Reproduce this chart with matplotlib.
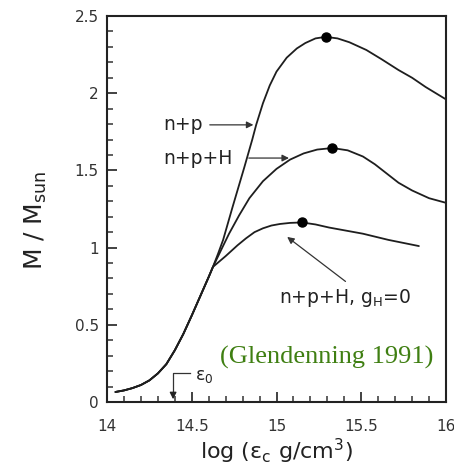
import matplotlib
matplotlib.use("Agg")
import matplotlib.pyplot as plt
from matplotlib.ticker import MultipleLocator, FuncFormatter

plt.rcParams['font.family'] = ['DejaVu Sans']
plt.rcParams['mathtext.fontset'] = 'dejavusans'

# shared low-density branch
x_common = [14.05, 14.1, 14.15, 14.2, 14.25, 14.3, 14.35, 14.40, 14.45, 14.50, 14.55, 14.60, 14.625]
y_common = [0.065, 0.075, 0.09, 0.11, 0.14, 0.185, 0.245, 0.335, 0.44, 0.56, 0.685, 0.81, 0.875]

# n+p
x_np = [14.625, 14.655, 14.685, 14.74, 14.81, 14.857, 14.88, 14.92, 14.96, 15.0, 15.06, 15.12,
        15.17, 15.23, 15.29, 15.36, 15.43, 15.53, 15.62, 15.72, 15.80, 15.88, 16.0]
y_np = [0.875, 0.96, 1.05, 1.26, 1.52, 1.70, 1.795, 1.935, 2.05, 2.14, 2.23, 2.29,
        2.325, 2.355, 2.365, 2.355, 2.33, 2.28, 2.22, 2.15, 2.10, 2.04, 1.96]

# n+p+H
x_nph = [14.625, 14.68, 14.72, 14.78, 14.84, 14.92, 15.0, 15.08, 15.16, 15.24, 15.33, 15.42,
         15.51, 15.58, 15.65, 15.72, 15.80, 15.90, 16.0]
y_nph = [0.875, 1.0, 1.09, 1.21, 1.32, 1.43, 1.51, 1.57, 1.61, 1.635, 1.645, 1.63,
         1.59, 1.54, 1.48, 1.42, 1.37, 1.32, 1.29]

# n+p+H, g_H = 0
x_g0 = [14.625, 14.70, 14.77, 14.82, 14.87, 14.92, 14.97, 15.02, 15.08, 15.15, 15.23,
        15.31, 15.41, 15.51, 15.66, 15.84]
y_g0 = [0.875, 0.945, 1.015, 1.06, 1.10, 1.125, 1.143, 1.153, 1.16, 1.163, 1.15,
        1.13, 1.11, 1.09, 1.05, 1.01]

# maximum-mass points
x_max = [15.29, 15.33, 15.15]
y_max = [2.365, 1.645, 1.163]

x_ticks = [14, 14.5, 15, 15.5, 16]
y_ticks = [0, 0.5, 1, 1.5, 2, 2.5]

fig = plt.figure(figsize=(4.54, 4.71), dpi=100)
ax = fig.add_axes([0.2357, 0.1465, 0.9824 - 0.2357, 0.966 - 0.1465])

lc = '#1e1e1e'
for xs, ys in [(x_np, y_np), (x_nph, y_nph), (x_g0, y_g0)]:
    ax.plot(x_common + xs[1:], y_common + ys[1:], color=lc, lw=1.3,
            solid_joinstyle='round', solid_capstyle='round')
ax.plot(x_max, y_max, 'o', color='black', ms=6.5)

ax.set_xlim(14, 16)
ax.set_ylim(0, 2.5)
ax.set_xticks(x_ticks)
ax.set_yticks(y_ticks)
fmt = FuncFormatter(lambda v, p: ('%g' % v))
ax.xaxis.set_major_formatter(fmt)
ax.yaxis.set_major_formatter(fmt)
ax.xaxis.set_minor_locator(MultipleLocator(0.1))
ax.yaxis.set_minor_locator(MultipleLocator(0.1))
ax.tick_params(which='both', direction='in', top=False, right=False, colors='#333333', labelsize=11)
ax.tick_params(axis='x', which='major', pad=12)
ax.tick_params(axis='y', which='major', pad=6)
ax.tick_params(which='major', length=7, width=1.3)
ax.tick_params(which='minor', length=4, width=1.1)
for s in ax.spines.values():
    s.set_linewidth(1.5)
    s.set_color('#222222')

ax.set_xlabel('log (ε$_\\mathregular{c}$ g/cm$^\\mathregular{3}$)', fontsize=16, color='#222222', labelpad=2)
ax.set_ylabel('M / M$_\\mathregular{sun}$', fontsize=18, color='#222222')
ax.yaxis.set_label_coords(-0.17, 0.47)

tc = '#222222'
aprops = dict(arrowstyle='-|>', color='#333333', lw=0.9, mutation_scale=10)
ax.annotate('', xy=(14.88, 1.795), xytext=(14.59, 1.795), arrowprops=aprops)
ax.text(14.33, 1.795, 'n+p', fontsize=13.5, va='center', ha='left', color=tc)
ax.annotate('', xy=(15.09, 1.58), xytext=(14.82, 1.58), arrowprops=aprops)
ax.text(14.33, 1.58, 'n+p+H', fontsize=13.5, va='center', ha='left', color=tc)
ax.annotate('', xy=(15.05, 1.08), xytext=(15.42, 0.77), arrowprops=aprops)
ax.text(15.015, 0.675, 'n+p+H, g$_\\mathregular{H}$=0', fontsize=13.5, va='center', ha='left', color=tc)

# epsilon_0 marker
ax.plot([14.49, 14.39, 14.39], [0.19, 0.19, 0.06], color='#333333', lw=0.9)
ax.annotate('', xy=(14.39, 0.0), xytext=(14.39, 0.08),
            arrowprops=dict(arrowstyle='-|>', color='#222222', lw=0.9, mutation_scale=10))
ax.text(14.52, 0.17, 'ε$_\\mathregular{0}$', fontsize=12.5, va='center', ha='left', color=tc)

ax.text(14.665, 0.29, '(Glendenning 1991)', fontsize=19, family='Liberation Serif',
        color='#3f7f12', va='center', ha='left')

fig.savefig('out.png', dpi=100)
